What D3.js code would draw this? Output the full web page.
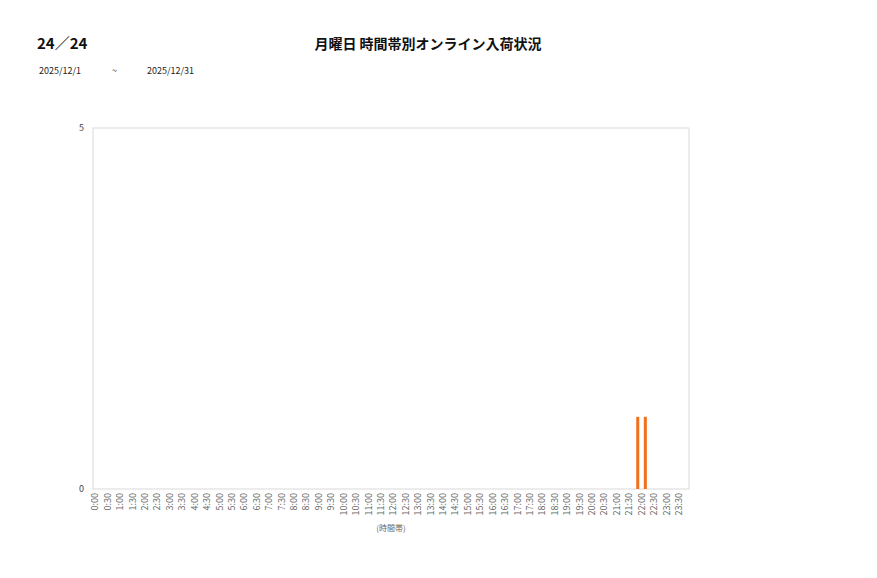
<!DOCTYPE html>
<html>
<head>
<meta charset="utf-8">
<script src="https://cdn.jsdelivr.net/npm/d3@7"></script>
<style>
  body { margin: 0; background: #fff; font-family: "Noto Sans CJK JP", "Noto Sans", sans-serif; }
</style>
</head>
<body>
<svg id="chart" width="877" height="578"></svg>
<script>
// time slots (x categories)
const slots = [];
for (let h = 0; h < 24; h++) { slots.push(h + ":00"); slots.push(h + ":30"); }

// two series, both only at 22:00
const seriesNames = ["s1", "s2"];
const series1 = slots.map(s => s === "22:00" ? 1 : 0);
const series2 = slots.map(s => s === "22:00" ? 1 : 0);
const yTicks = [0, 5];

const svg = d3.select("#chart");
const plot = { left: 93, right: 689, top: 128, bottom: 489 };

// header texts
svg.append("text").attr("x", 37).attr("y", 49)
    .attr("font-size", 15).attr("font-weight", "bold").attr("fill", "#111")
    .text("24／24");
svg.append("text").attr("x", 428).attr("y", 49).attr("text-anchor", "middle")
    .attr("font-size", 14).attr("font-weight", "bold").attr("fill", "#111")
    .text("月曜日 時間帯別オンライン入荷状況");
svg.append("text").attr("x", 39).attr("y", 74).attr("font-size", 9).attr("fill", "#222").text("2025/12/1");
svg.append("text").attr("x", 112).attr("y", 74).attr("font-size", 9).attr("fill", "#222").text("~");
svg.append("text").attr("x", 147).attr("y", 74).attr("font-size", 9).attr("fill", "#222").text("2025/12/31");

// scales (labels sit slightly left of the frame centre, as in the source)
const x = d3.scaleBand().domain(slots).range([plot.left - 4, plot.right - 4]);
const x1 = d3.scaleBand().domain(seriesNames).range([0, x.bandwidth()])
    .paddingInner(0.6).paddingOuter(0.12);
const y = d3.scaleLinear().domain([0, 5]).range([plot.bottom, plot.top]);

// frame
svg.append("rect")
    .attr("x", plot.left).attr("y", plot.top)
    .attr("width", plot.right - plot.left).attr("height", plot.bottom - plot.top)
    .attr("fill", "none").attr("stroke", "#d9d9d9").attr("stroke-width", 1);

// bars
const rows = slots.map((s, i) => ({ slot: s, values: [series1[i], series2[i]] }));
const groups = svg.append("g").selectAll("g")
    .data(rows)
    .enter()
    .append("g")
    .attr("transform", d => `translate(${x(d.slot)},0)`);

groups.selectAll("rect")
    .data(d => d.values.map((v, k) => ({ key: seriesNames[k], v })))
    .enter()
    .filter(d => d.v > 0)
    .append("rect")
    .attr("x", d => x1(d.key))
    .attr("width", x1.bandwidth())
    .attr("y", d => y(d.v))
    .attr("height", d => y(0) - y(d.v))
    .attr("fill", "#f0701e");

// y axis labels
svg.append("g").selectAll("text")
    .data(yTicks)
    .enter()
    .append("text")
    .attr("x", 84).attr("y", d => y(d)).attr("dy", "0.35em")
    .attr("text-anchor", "end").attr("font-size", 9).attr("fill", "#444")
    .text(d => d);

// x axis labels, rotated
svg.append("g").selectAll("text")
    .data(slots)
    .enter()
    .append("text")
    .attr("transform", d => `translate(${x(d) + x.bandwidth() / 2},${plot.bottom + 4}) rotate(-90)`)
    .attr("dy", "0.35em")
    .attr("text-anchor", "end").attr("font-size", 9).attr("fill", "#666")
    .text(d => d);

// x axis title
svg.append("text").attr("x", 391).attr("y", 531).attr("text-anchor", "middle")
    .attr("font-size", 8).attr("fill", "#666").text("(時間帯)");
</script>
</body>
</html>
